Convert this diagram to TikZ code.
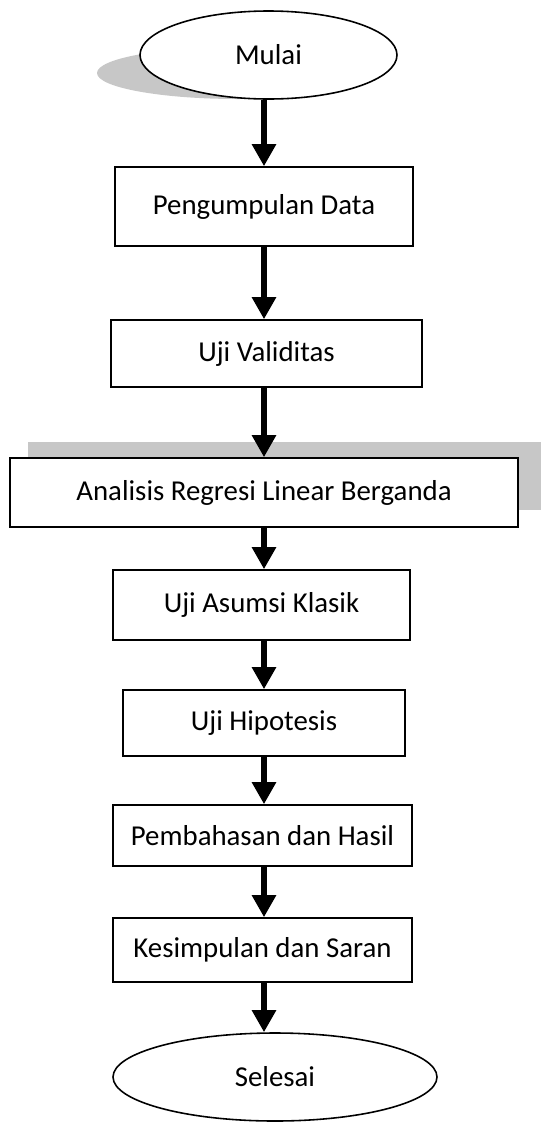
\documentclass[tikz,border=0pt]{standalone}
\usepackage{fontspec}
\setmainfont{Carlito}
\usetikzlibrary{shapes.geometric,arrows.meta}
\tikzset{
    terminal/.style={ellipse,draw,line width=0.9pt,fill=white,inner sep=0pt},
    process/.style={rectangle,draw,line width=0.9pt,fill=white,inner sep=0pt},
    flow/.style={->,> = {Triangle[width=0.46cm,length=0.44cm]},line width=3.4pt},
    shade/.style={fill=black!22,draw=none},
}
\begin{document}
\begin{tikzpicture}[font=\fontsize{16.4}{20}\selectfont]
    \useasboundingbox (0,0) rectangle (10.82,-22.48);
    \coordinate (spine) at (5.28,0);
    % shadows
    \fill[shade] (4.76,-1.46) ellipse (2.82cm and 0.52cm);
    \fill[shade] (0.56,-8.84) rectangle (10.82,-10.20);
    \node[terminal,minimum width=5.14cm,minimum height=1.76cm] (mulai) at (5.37,-1.10) {Mulai};
    \node[process,minimum width=5.96cm,minimum height=1.58cm] (data) at (5.28,-4.13) {Pengumpulan Data};
    \node[process,minimum width=6.22cm,minimum height=1.34cm] (valid) at (5.33,-7.07) {Uji Validitas};
    \node[process,minimum width=10.16cm,minimum height=1.38cm] (regresi) at (5.28,-9.85) {Analisis Regresi Linear Berganda};
    \node[process,minimum width=5.94cm,minimum height=1.40cm] (asumsi) at (5.23,-12.10) {Uji Asumsi Klasik};
    \node[process,minimum width=5.64cm,minimum height=1.32cm] (hipotesis) at (5.28,-14.46) {Uji Hipotesis};
    \node[process,minimum width=5.98cm,minimum height=1.22cm] (bahas) at (5.25,-16.71) {Pembahasan dan Hasil};
    \node[process,minimum width=5.98cm,minimum height=1.28cm] (simpul) at (5.25,-19.00) {Kesimpulan dan Saran};
    \node[terminal,minimum width=6.48cm,minimum height=1.76cm] (selesai) at (5.50,-21.54) {Selesai};
    \draw[flow] (mulai.south -| spine) -- (data.north -| spine);
    \draw[flow] (data.south -| spine) -- (valid.north -| spine);
    \draw[flow] (valid.south -| spine) -- (regresi.north -| spine);
    \draw[flow] (regresi.south -| spine) -- (asumsi.north -| spine);
    \draw[flow] (asumsi.south -| spine) -- (hipotesis.north -| spine);
    \draw[flow] (hipotesis.south -| spine) -- (bahas.north -| spine);
    \draw[flow] (bahas.south -| spine) -- (simpul.north -| spine);
    \draw[flow] (simpul.south -| spine) -- (selesai.north -| spine);
\end{tikzpicture}
\end{document}
